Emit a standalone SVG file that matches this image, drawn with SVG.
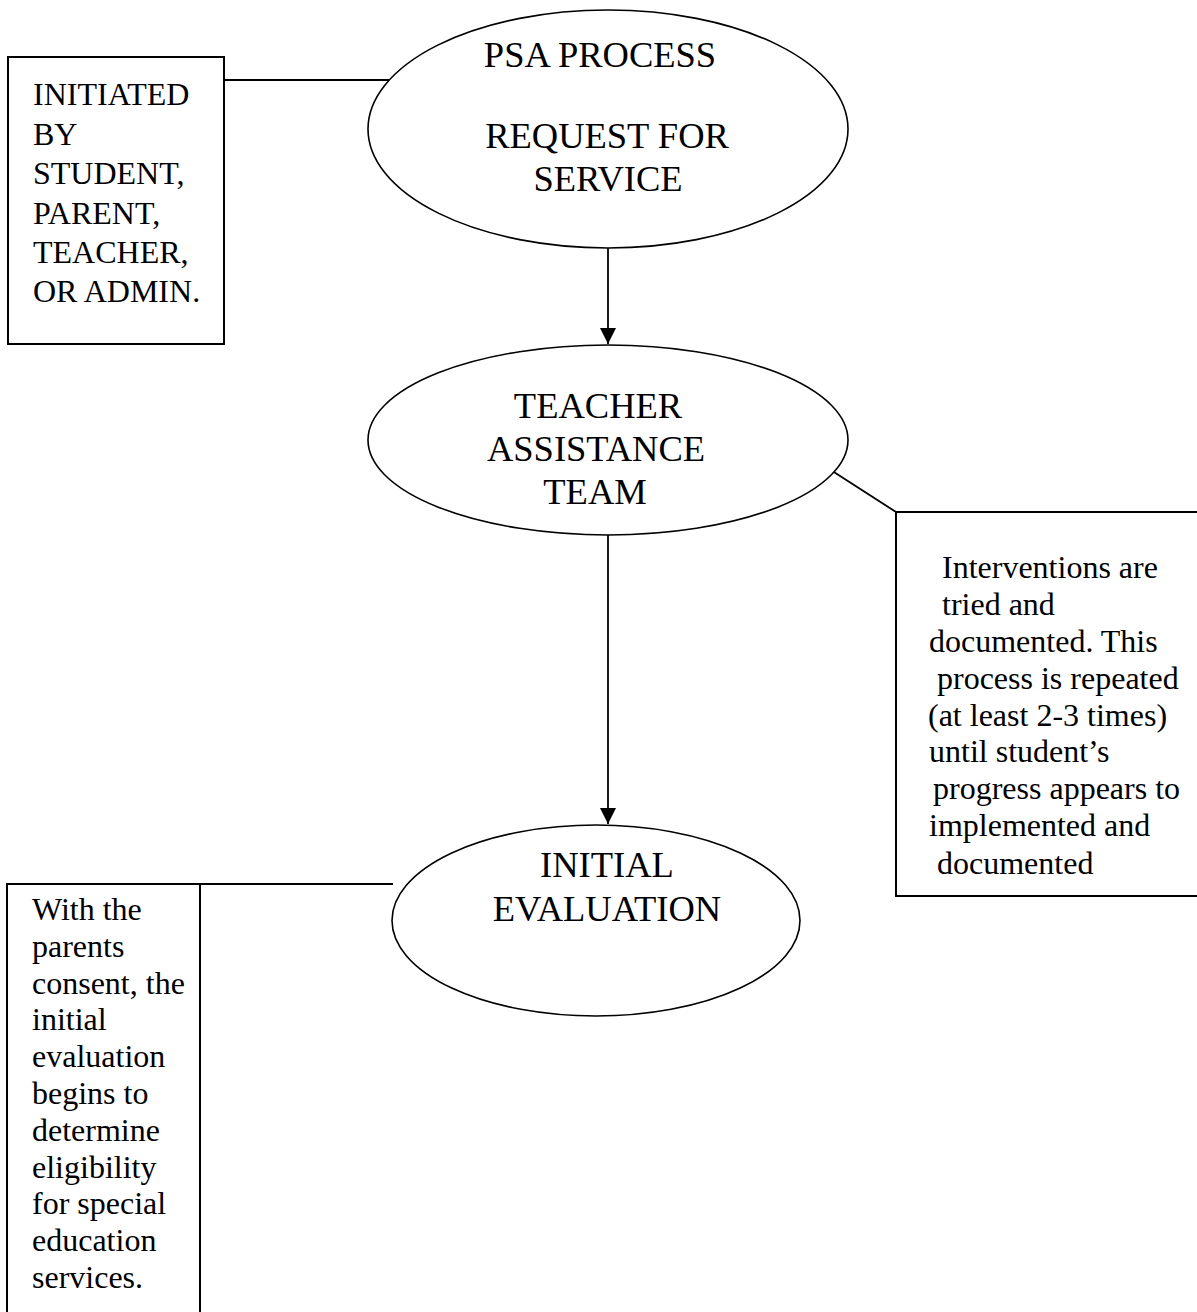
<svg xmlns="http://www.w3.org/2000/svg" width="1197" height="1312" viewBox="0 0 1197 1312">
<style>
  .bg { fill: #ffffff; }
  .shape { fill: #ffffff; stroke: #000000; stroke-width: 1.6; }
  .box { fill: none; stroke: #000000; stroke-width: 2; }
  .conn { fill: none; stroke: #000000; stroke-width: 1.8; }
  .big { font-family: "Liberation Serif", "Times New Roman", serif; font-size: 36.5px; fill: #000000; text-anchor: middle; }
  .small { font-family: "Liberation Serif", "Times New Roman", serif; font-size: 32px; fill: #000000; }
</style>
<defs>
  <marker id="arrow" markerUnits="userSpaceOnUse" markerWidth="16" markerHeight="16" refX="16" refY="8" orient="auto">
    <path d="M0,0 L16,8 L0,16 z" fill="#000000"/>
  </marker>
</defs>
<rect class="bg" x="0" y="0" width="1197" height="1312"/>

<g id="connectors">
  <line class="conn" x1="224" y1="80" x2="392" y2="80"/>
  <line class="conn" x1="608" y1="248" x2="608" y2="344" marker-end="url(#arrow)"/>
  <line class="conn" x1="608" y1="535" x2="608" y2="824" marker-end="url(#arrow)"/>
  <line class="conn" x1="823" y1="465" x2="896" y2="512"/>
  <line class="conn" x1="200" y1="884" x2="393" y2="884"/>
</g>

<g id="node-initiated">
  <rect class="box" x="8" y="57" width="216" height="287"/>
  <text class="small" x="33" y="105">INITIATED</text>
  <text class="small" x="33" y="144.5">BY</text>
  <text class="small" x="33" y="184">STUDENT,</text>
  <text class="small" x="33" y="223.5">PARENT,</text>
  <text class="small" x="33" y="263">TEACHER,</text>
  <text class="small" x="33" y="302">OR ADMIN.</text>
</g>

<g id="node-psa">
  <ellipse class="shape" cx="608" cy="129" rx="240" ry="119"/>
  <text class="big" x="600" y="67">PSA PROCESS</text>
  <text class="big" x="607" y="148">REQUEST FOR</text>
  <text class="big" x="608" y="191">SERVICE</text>
</g>

<g id="node-tat">
  <ellipse class="shape" cx="608" cy="440" rx="240" ry="95"/>
  <text class="big" x="598" y="418">TEACHER</text>
  <text class="big" x="596" y="461">ASSISTANCE</text>
  <text class="big" x="595" y="504">TEAM</text>
</g>

<g id="node-interventions">
  <path class="box" d="M1197,512 H896 V896 H1197"/>
  <text class="small" x="942" y="578">Interventions are</text>
  <text class="small" x="942" y="615">tried and</text>
  <text class="small" x="929" y="652">documented.  This</text>
  <text class="small" x="937" y="689">process is repeated</text>
  <text class="small" x="928" y="726">(at least 2-3 times)</text>
  <text class="small" x="929" y="762">until student’s</text>
  <text class="small" x="933" y="799">progress appears to</text>
  <text class="small" x="929" y="836">implemented and</text>
  <text class="small" x="937" y="874">documented</text>
</g>

<g id="node-initial">
  <ellipse class="shape" cx="596" cy="920.5" rx="204" ry="95.5"/>
  <text class="big" x="607" y="877">INITIAL</text>
  <text class="big" x="607" y="921">EVALUATION</text>
</g>

<g id="node-consent">
  <path class="box" d="M7,1312 V884 H200 V1312"/>
  <text class="small" x="32" y="920">With the</text>
  <text class="small" x="32" y="956.8">parents</text>
  <text class="small" x="32" y="993.6">consent, the</text>
  <text class="small" x="32" y="1030.4">initial</text>
  <text class="small" x="32" y="1067.2">evaluation</text>
  <text class="small" x="32" y="1104">begins to</text>
  <text class="small" x="32" y="1140.8">determine</text>
  <text class="small" x="32" y="1177.6">eligibility</text>
  <text class="small" x="32" y="1214.4">for special</text>
  <text class="small" x="32" y="1251.2">education</text>
  <text class="small" x="32" y="1288">services.</text>
</g>
</svg>
